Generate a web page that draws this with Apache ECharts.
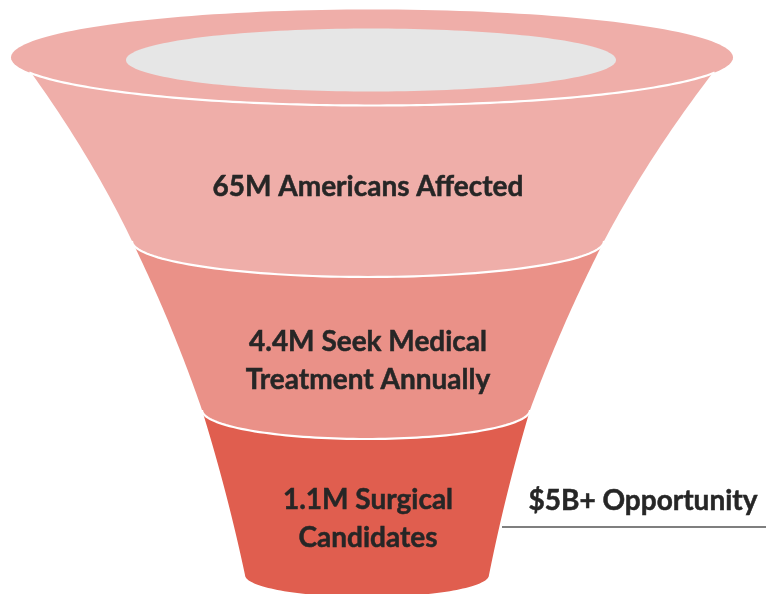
<!DOCTYPE html>
<html><head><meta charset="utf-8">
<script src="https://cdn.jsdelivr.net/npm/echarts@6/dist/echarts.min.js"></script>
<style>html,body{margin:0;padding:0;background:#fff}#c{width:766px;height:594px}</style>
</head><body><div id="c"></div>
<script>
// ---- data ----
const stageLabels = ['65M Americans Affected', '4.4M Seek Medical\nTreatment Annually', '1.1M Surgical\nCandidates'];
const stageValues = [65, 4.4, 1.1]; // millions of people
const annotationLabels = ['', '', '$5B+ Opportunity'];

// ---- styles / layout (axis units == pixels of the 766x594 canvas) ----
const stageColors = ['#efaea9', '#ea9188', '#e05e4f'];
const rimInnerColor = '#e6e6e6';
const textColor = '#262626';
const rim = { y: 57.5, cx: 372, rx: 361, ry: 48 };
const rimInner = { y: 60, cx: 371, rx: 245, ry: 31.5 };
const rimJoinAngle = 0.34;
const levels = [
  { y: 241, cx: 368, rx: 236, ry: 36 },
  { y: 410, cx: 366, rx: 164, ry: 29 },
  { y: 575, cx: 367, rx: 122, ry: 22 }
];
const sideBow = [5, 3, 2]; // inward bow of each section's side, px
const labelY = [187, 361, 519];

function bez(p0, c, p1, n) {
  const out = [];
  for (let k = 0; k <= n; k++) {
    const t = k / n, a = (1 - t) * (1 - t), b = 2 * (1 - t) * t, d = t * t;
    out.push([a * p0[0] + b * c[0] + d * p1[0], a * p0[1] + b * c[1] + d * p1[1]]);
  }
  return out;
}
function arc(L, t0, t1, n) {
  const out = [];
  for (let k = 0; k <= n; k++) {
    const t = t0 + (t1 - t0) * k / n;
    out.push([L.cx + L.rx * Math.cos(t), L.y + L.ry * Math.sin(t)]);
  }
  return out;
}
function ctrl(p0, p1, bow, dir) {
  return [(p0[0] + p1[0]) / 2 + dir * 2 * bow, (p0[1] + p1[1]) / 2];
}

function renderItem(params, api) {
  const i = api.value(0);
  const B = levels[i];
  let tl, tr;
  if (i === 0) {
    tl = [rim.cx + rim.rx * Math.cos(Math.PI - rimJoinAngle), rim.y + rim.ry * Math.sin(Math.PI - rimJoinAngle)];
    tr = [rim.cx + rim.rx * Math.cos(rimJoinAngle), rim.y + rim.ry * Math.sin(rimJoinAngle)];
  } else {
    const T = levels[i - 1];
    tl = [T.cx - T.rx, T.y]; tr = [T.cx + T.rx, T.y];
  }
  const bl = [B.cx - B.rx, B.y], br = [B.cx + B.rx, B.y];
  const pts = bez(tl, ctrl(tl, bl, sideBow[i], 1), bl, 30)
    .concat(arc(B, Math.PI, 0, 80))
    .concat(bez(br, ctrl(br, tr, sideBow[i], -1), tr, 30));
  const toPx = p => api.coord(p);
  const children = [];
  const baseZ = (3 - i) * 10;
  children.push({ type: 'polygon', shape: { points: pts.map(toPx) }, style: { fill: stageColors[i] }, z2: baseZ });
  if (i < 2) {
    children.push({ type: 'polyline', shape: { points: arc(B, Math.PI, 0, 80).map(toPx) },
      style: { stroke: '#ffffff', lineWidth: 2.2, fill: null }, z2: baseZ + 1 });
  }
  if (i === 0) {
    children.push({ type: 'polygon', shape: { points: arc(rim, 0, Math.PI * 2, 180).map(toPx) }, style: { fill: stageColors[0] }, z2: baseZ + 2 });
    children.push({ type: 'polyline', shape: { points: arc(rim, rimJoinAngle - 0.02, Math.PI - rimJoinAngle + 0.02, 120).map(toPx) },
      style: { stroke: '#ffffff', lineWidth: 2.2, fill: null }, z2: baseZ + 3 });
    children.push({ type: 'polygon', shape: { points: arc(rimInner, 0, Math.PI * 2, 180).map(toPx) }, style: { fill: rimInnerColor }, z2: baseZ + 4 });
  }
  const lp = toPx([368, labelY[i]]);
  children.push({ type: 'text', z2: 100, style: { text: stageLabels[i], x: lp[0], y: lp[1], fill: textColor,
    stroke: textColor, lineWidth: 0.5,
    font: 'bold 28px Lato', align: 'center', verticalAlign: 'middle', lineHeight: 38 } });
  const ann = annotationLabels[i];
  if (ann) {
    const ap = toPx([643, 501]);
    children.push({ type: 'text', z2: 100, style: { text: ann, x: ap[0], y: ap[1], fill: textColor,
      stroke: textColor, lineWidth: 0.5,
      font: 'bold 28px Lato', align: 'center', verticalAlign: 'middle' } });
    const l0 = toPx([502, 527]), l1 = toPx([766, 527]);
    children.push({ type: 'line', z2: 100, shape: { x1: l0[0], y1: l0[1], x2: l1[0], y2: l1[1] },
      style: { stroke: '#7f7f7f', lineWidth: 2 } });
  }
  return { type: 'group', children };
}

const chart = echarts.init(document.getElementById('c'), null, { renderer: 'canvas' });
chart.setOption({
  animation: false,
  backgroundColor: '#ffffff',
  grid: { left: 0, right: 0, top: 0, bottom: 0 },
  xAxis: { type: 'value', min: 0, max: 766, show: false },
  yAxis: { type: 'value', min: 0, max: 594, inverse: true, show: false },
  series: [{
    type: 'custom',
    renderItem,
    clip: false,
    data: stageLabels.map((l, i) => [i, stageValues[i]])
  }]
});
</script></body></html>
